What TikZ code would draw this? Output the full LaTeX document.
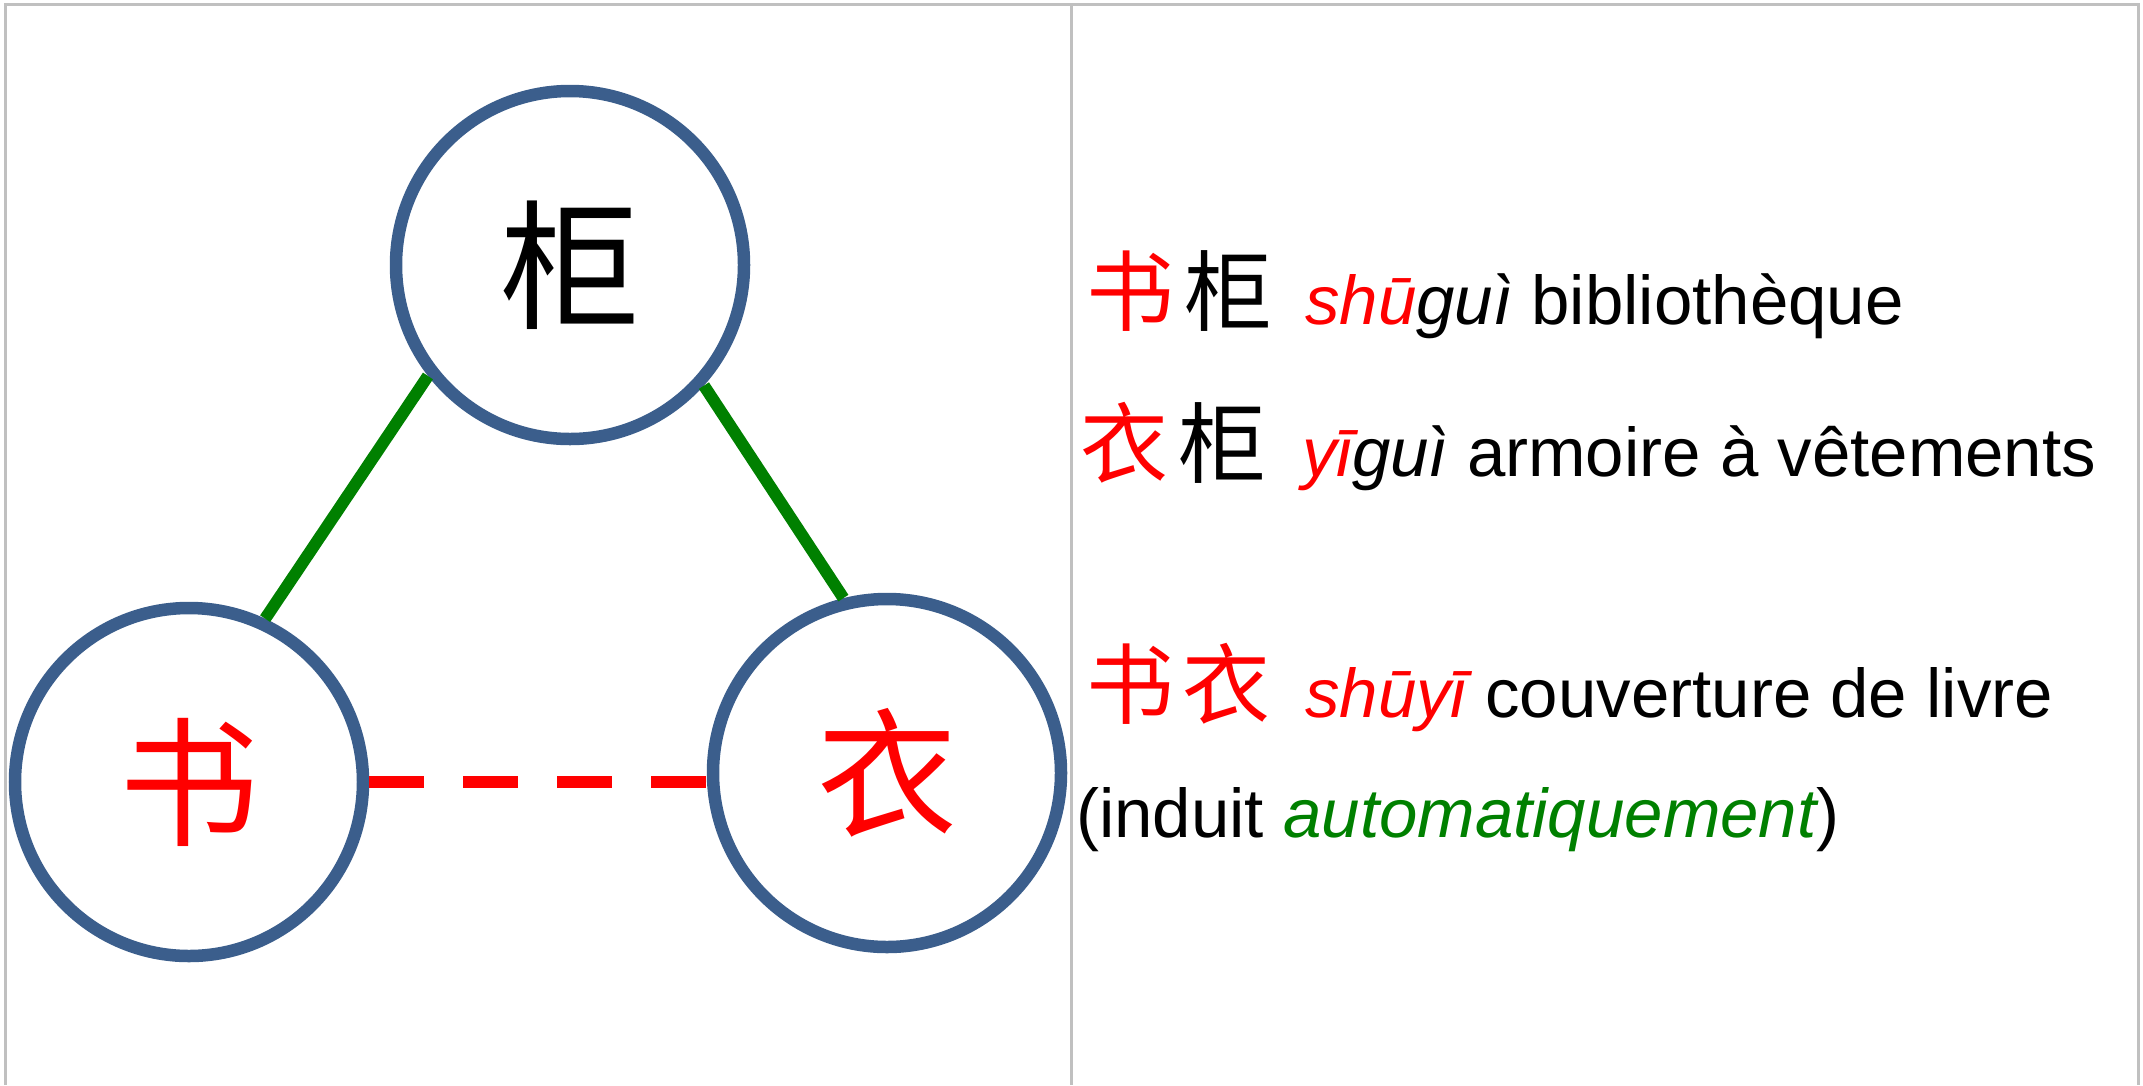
\documentclass[tikz,border=0pt]{standalone}
\usepackage{fontspec}
\setmainfont{Liberation Sans}
\newfontfamily\cjk{Noto Sans CJK SC}
\definecolor{cblue}{RGB}{59,94,140}
\definecolor{cgreen}{RGB}{0,128,0}
\definecolor{cred}{RGB}{255,0,0}
\definecolor{cgray}{RGB}{192,192,192}
\begin{document}
\begin{tikzpicture}[x=1pt,y=-1pt,
  circ/.style={circle, draw=cblue, line width=12.5pt, minimum size=348pt, inner sep=0pt,
    font=\cjk\fontsize{140pt}{140pt}\selectfont},
  greenline/.style={draw=cgreen, line width=12pt},
  redline/.style={draw=cred, line width=12.5pt, dash pattern=on 55pt off 39pt},
  frame/.style={draw=cgray, line width=3pt},
  cjkt/.style={inner sep=0pt, anchor=base west, font=\cjk\fontsize{88pt}{100pt}\selectfont},
  txt/.style={inner sep=0pt, anchor=base west, font=\fontsize{69pt}{80pt}\selectfont}]
\useasboundingbox (0,0) rectangle (2143,1085);
% frame
\draw[frame] (5.5,1085) -- (5.5,4) -- (2138.5,4) -- (2138.5,1085);
\draw[frame] (1071.5,4) -- (1071.5,1085);
% circles
\node[circ] (gui) at (570,265) {柜};
\node[circ, text=cred] (shu) at (189,782) {书};
\node[circ, text=cred] (yi) at (887,773) {衣};
% connectors
\draw[greenline] (gui.218) -- (shu.65);
\draw[greenline] (gui.318.6) -- (yi.104);
\draw[redline] (shu.east) -- (shu.east -| yi.west);
% texts
\node[cjkt] (l1c) at (1086,324) {\textcolor{cred}{书}\hspace{10pt}柜};
\node[txt] (l1t) at (1305,324) {\textcolor{cred}{\itshape shū}\textit{guì} bibliothèque};
\node[cjkt] (l2c) at (1080,476) {\textcolor{cred}{衣}\hspace{10pt}柜};
\node[txt] (l2t) at (1302,476) {\textcolor{cred}{\itshape yī}\textit{guì} armoire à vêtements};
\node[cjkt, text=cred] (l3c) at (1086,717) {书\hspace{8pt}衣};
\node[txt] (l3t) at (1305,717) {\textcolor{cred}{\itshape shūyī} couverture de livre};
\node[txt] (l4t) at (1076,837) {(induit \textcolor{cgreen}{\itshape automatiquement})};
\end{tikzpicture}
\end{document}
